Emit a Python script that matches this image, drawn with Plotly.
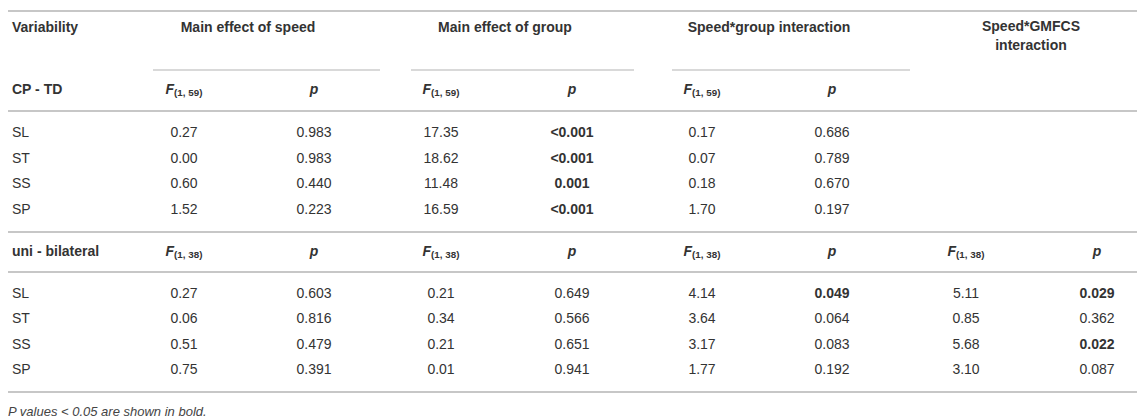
import plotly.graph_objects as go

W, H = 1145, 420

# ---- data ----
variables = ["SL", "ST", "SS", "SP"]

effects = ["Main effect of speed", "Main effect of group",
           "Speed*group interaction", "Speed*GMFCS<br>interaction"]

# CP - TD, F(1, 59)
cp_speed_f = [0.27, 0.00, 0.60, 1.52]
cp_speed_p = ["0.983", "0.983", "0.440", "0.223"]
cp_group_f = [17.35, 18.62, 11.48, 16.59]
cp_group_p = ["<0.001", "<0.001", "0.001", "<0.001"]
cp_inter_f = [0.17, 0.07, 0.18, 1.70]
cp_inter_p = ["0.686", "0.789", "0.670", "0.197"]

# uni - bilateral, F(1, 38)
uni_speed_f = [0.27, 0.06, 0.51, 0.75]
uni_speed_p = ["0.603", "0.816", "0.479", "0.391"]
uni_group_f = [0.21, 0.34, 0.21, 0.01]
uni_group_p = ["0.649", "0.566", "0.651", "0.941"]
uni_inter_f = [4.14, 3.64, 3.17, 1.77]
uni_inter_p = ["0.049", "0.064", "0.083", "0.192"]
uni_gmfcs_f = [5.11, 0.85, 5.68, 3.10]
uni_gmfcs_p = ["0.029", "0.362", "0.022", "0.087"]

footnote = "P values < 0.05 are shown in bold."

# ---- layout constants (pixels) ----
FONT = "Liberation Sans, Arial, sans-serif"
TXT = "#333333"
RULE = "#b4b4b4"
label_x = 4
col_f = [176, 433, 694, 958]
col_p = [306, 564, 824, 1089]
head_x = [240, 497, 761, 1023]
spans = [(145, 372), (403, 626), (664, 902)]

y_head = 20
y_sub1 = 82
y_rows1 = [125, 151, 176, 202]
y_sub2 = 244
y_rows2 = [286, 311, 337, 362]
y_foot = 405
rules_full = [3, 103, 224, 264, 384]
y_span = 62


def fmt_p(s):
    val = float(s.replace("<", ""))
    s = s.replace("<", "&lt;")
    return f"<b>{s}</b>" if val < 0.05 else s


def f_head(df):
    return f"<b><i>F</i><sub>{df}</sub></b>"


fig = go.Figure()


def add_text(xs, ys, texts, pos="middle center", size=14, color=TXT):
    fig.add_trace(go.Scatter(
        x=xs, y=ys, text=texts, mode="text", textposition=pos,
        textfont=dict(family=FONT, size=size, color=color),
        cliponaxis=False, hoverinfo="skip", showlegend=False))


# header row
add_text([label_x], [y_head], ["<b>Variability</b>"], pos="middle right")
add_text(head_x[:3], [y_head] * 3, [f"<b>{e}</b>" for e in effects[:3]])
add_text([head_x[3]], [y_head + 9], [f"<b>{effects[3]}</b>"])

# CP - TD block
add_text([label_x], [y_sub1], ["<b>CP - TD</b>"], pos="middle right")
add_text(col_f[:3], [y_sub1] * 3, [f_head("(1, 59)")] * 3)
add_text(col_p[:3], [y_sub1] * 3, ["<b><i>p</i></b>"] * 3)
add_text([label_x] * 4, y_rows1, variables, pos="middle right")
cp_f = [cp_speed_f, cp_group_f, cp_inter_f]
cp_p = [cp_speed_p, cp_group_p, cp_inter_p]
for i in range(3):
    add_text([col_f[i]] * 4, y_rows1, [f"{v:.2f}" for v in cp_f[i]])
    add_text([col_p[i]] * 4, y_rows1, [fmt_p(v) for v in cp_p[i]])

# uni - bilateral block
add_text([label_x], [y_sub2], ["<b>uni - bilateral</b>"], pos="middle right")
add_text(col_f, [y_sub2] * 4, [f_head("(1, 38)")] * 4)
add_text(col_p, [y_sub2] * 4, ["<b><i>p</i></b>"] * 4)
add_text([label_x] * 4, y_rows2, variables, pos="middle right")
uni_f = [uni_speed_f, uni_group_f, uni_inter_f, uni_gmfcs_f]
uni_p = [uni_speed_p, uni_group_p, uni_inter_p, uni_gmfcs_p]
for i in range(4):
    add_text([col_f[i]] * 4, y_rows2, [f"{v:.2f}" for v in uni_f[i]])
    add_text([col_p[i]] * 4, y_rows2, [fmt_p(v) for v in uni_p[i]])

# footnote
add_text([0], [y_foot], [f"<i>{footnote.replace('<', '&lt;')}</i>"],
         pos="middle right", size=13, color="#444444")

# rules
shapes = []
for y in rules_full:
    shapes.append(dict(type="line", xref="x", yref="y", x0=0, x1=W, y0=y, y1=y,
                       line=dict(color=RULE, width=1.6)))
for x0, x1 in spans:
    shapes.append(dict(type="line", xref="x", yref="y", x0=x0, x1=x1, y0=y_span, y1=y_span,
                       line=dict(color=RULE, width=1.2)))

fig.update_layout(
    width=W, height=H, margin=dict(l=0, r=0, t=0, b=0),
    paper_bgcolor="white", plot_bgcolor="white",
    xaxis=dict(range=[0, W], visible=False, fixedrange=True),
    yaxis=dict(range=[H, 0], visible=False, fixedrange=True),
    shapes=shapes,
)

fig.write_html("out.html", config={"displayModeBar": False})
